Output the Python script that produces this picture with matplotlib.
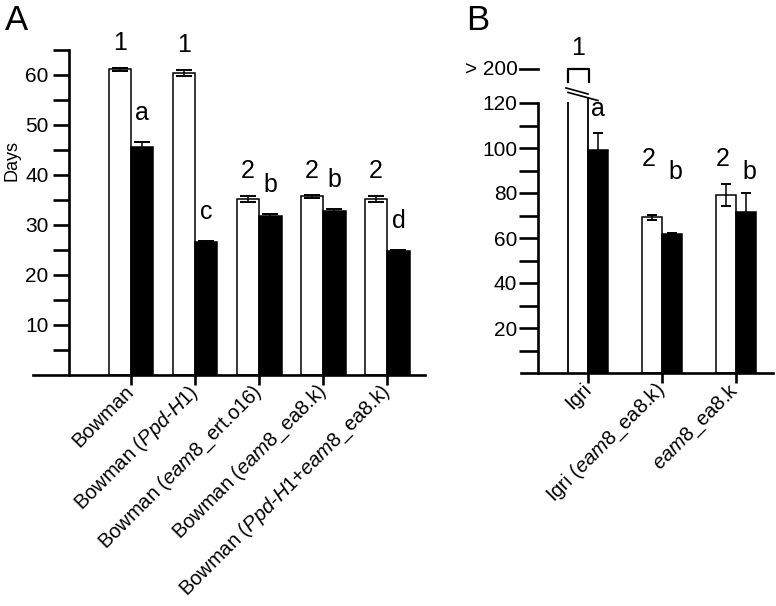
import matplotlib
matplotlib.use("Agg")
import matplotlib.pyplot as plt
import numpy as np

plt.rcParams['font.family'] = ['Liberation Sans', 'DejaVu Sans']
plt.rcParams['mathtext.fontset'] = 'custom'
plt.rcParams['mathtext.rm'] = 'Liberation Sans'
plt.rcParams['mathtext.it'] = 'Liberation Sans:italic'

# ---- data, panel A ----
names_a = ["Bowman",
           r"Bowman ($\mathit{Ppd}$-$\mathit{H1}$)",
           r"Bowman ($\mathit{eam8}$_ert.o16)",
           r"Bowman ($\mathit{eam8}$_ea8.k)",
           r"Bowman ($\mathit{Ppd}$-$\mathit{H1}$+$\mathit{eam8}$_ea8.k)"]
white_a = [61.2, 60.5, 35.3, 35.8, 35.3]
white_a_err = [0.3, 0.6, 0.6, 0.3, 0.6]
black_a = [45.7, 26.7, 31.8, 32.9, 24.8]
black_a_err = [1.0, 0.2, 0.4, 0.4, 0.3]
white_a_lab = ["1", "1", "2", "2", "2"]
black_a_lab = ["a", "c", "b", "b", "d"]

# ---- data, panel B ----
names_b = ["Igri", r"Igri ($\mathit{eam8}$_ea8.k)", r"$\mathit{eam8}$_ea8.k"]
white_b = [200, 69.2, 79.1]
white_b_err = [0, 1.0, 4.7]
black_b = [99.1, 61.8, 71.4]
black_b_err = [7.4, 0.5, 8.7]
white_b_lab = ["1", "2", "2"]
black_b_lab = ["a", "b", "b"]

fig = plt.figure(figsize=(7.76, 6.06), dpi=100)
W, H = 776, 606


def add_axes_px(x0, x1, y_top, y_bot):
    return fig.add_axes([x0 / W, 1 - y_bot / H, (x1 - x0) / W, (y_bot - y_top) / H])


def style(ax, spine_x, ytop, ticklen):
    for s in ("top", "right"):
        ax.spines[s].set_visible(False)
    ax.spines["left"].set_position(("data", spine_x))
    ax.spines["left"].set_bounds(0, ytop)
    for s in ("left", "bottom"):
        ax.spines[s].set_linewidth(1.9)
    ax.tick_params(axis="y", direction="out", length=ticklen, width=1.9,
                   labelsize=15, pad=3)
    ax.tick_params(axis="x", direction="out", length=7, width=1.9, pad=3)


# ---------------- panel A ----------------
axA = add_axes_px(33, 425, 50, 375)
xa = np.arange(len(names_a))
wa = 0.35
axA.bar(xa, white_a, width=-wa, align="edge", color="white",
        edgecolor="black", linewidth=1.1, zorder=2)
axA.bar(xa, black_a, width=wa, align="edge", color="black",
        edgecolor="black", linewidth=1.1, zorder=2)
axA.errorbar(xa - wa / 2, white_a, yerr=white_a_err, fmt="none",
             ecolor="black", elinewidth=1.1, capsize=6, capthick=1.4, zorder=3)
axA.errorbar(xa + wa / 2, black_a, yerr=black_a_err, fmt="none",
             ecolor="black", elinewidth=1.1, capsize=6, capthick=1.4, zorder=3)
for i in range(len(xa)):
    axA.text(xa[i] - wa / 2, white_a[i] + white_a_err[i] + 2.4, white_a_lab[i],
             ha="center", va="bottom", fontsize=18, clip_on=False)
    axA.text(xa[i] + wa / 2, black_a[i] + black_a_err[i] + 3.3, black_a_lab[i],
             ha="center", va="bottom", fontsize=18, clip_on=False)

axA.set_xlim(-1.53, 4.59)
axA.set_ylim(0, 65)
style(axA, -0.97, 65, 11.5)
yt = np.arange(5, 66, 5)
axA.set_yticks(yt)
axA.set_yticklabels([str(v) if v % 10 == 0 else "" for v in yt])
axA.set_xticks(xa)
axA.set_xticklabels(names_a, rotation=45, ha="right", va="center",
                    rotation_mode="anchor", fontsize=14.5)
axA.set_ylabel("Days", fontsize=13)
axA.yaxis.set_label_coords(-0.033, 0.66)
fig.text(5 / W, 1 - 20 / H, "A", fontsize=25, va="center", ha="left")

# ---------------- panel B ----------------
axB = add_axes_px(521, 773, 103, 373)
xb = np.arange(len(names_b))
wb = 0.27
ytop_b = 120
spine_b = -0.676

axB.bar(xb[1:], white_b[1:], width=-wb, align="edge", color="white",
        edgecolor="black", linewidth=1.1, zorder=2)
# broken bar for Igri (value > 200): sides only, no top
x0, x1 = xb[0] - wb, xb[0]
axB.fill_between([x0, x1], 0, ytop_b, color="white", zorder=1)
axB.plot([x0, x0], [0, ytop_b], color="black", lw=1.3, zorder=2, clip_on=False)
axB.plot([x1, x1], [0, 122.3], color="black", lw=1.3, zorder=2, clip_on=False)
axB.bar(xb, black_b, width=wb, align="edge", color="black",
        edgecolor="black", linewidth=1.1, zorder=2)
axB.errorbar(xb[1:] - wb / 2, white_b[1:], yerr=white_b_err[1:], fmt="none",
             ecolor="black", elinewidth=1.1, capsize=3.6, capthick=1.4, zorder=3)
axB.errorbar(xb + wb / 2, black_b, yerr=black_b_err, fmt="none",
             ecolor="black", elinewidth=1.1, capsize=3.6, capthick=1.4, zorder=3)

# break marks (two short parallel strokes)
axB.plot([x0 - 0.027, x1], [126.7, 124.0], color="black", lw=1.2, clip_on=False)
axB.plot([x0, x1 + 0.135], [124.7, 121.1], color="black", lw=1.2, clip_on=False)
# bracket above the broken bar
brk = 135
axB.plot([x0, x0, x1 + 0.02, x1 + 0.02], [129.5, brk, brk, 129.5],
         color="black", lw=1.6, clip_on=False)
axB.text((x0 + x1) / 2, brk + 4, white_b_lab[0], ha="center", va="bottom",
         fontsize=18, clip_on=False)
# "> 200" tick above the axis
axB.plot([spine_b - 0.24, spine_b], [brk, brk], color="black", lw=1.9,
         clip_on=False)
axB.text(spine_b - 0.27, brk, "> 200", ha="right", va="center", fontsize=15,
         clip_on=False)

axB.text(xb[0] + wb / 2, black_b[0] + black_b_err[0] + 5.5, black_b_lab[0],
         ha="center", va="bottom", fontsize=18, clip_on=False)
lab_level = max(np.array(white_b[1:]) + np.array(white_b_err[1:])) + 6
for i in range(1, len(xb)):
    axB.text(xb[i] - wb / 2 - 0.04, lab_level, white_b_lab[i],
             ha="center", va="bottom", fontsize=18, clip_on=False)
    axB.text(xb[i] + wb / 2 + 0.04, lab_level - 6, black_b_lab[i],
             ha="center", va="bottom", fontsize=18, clip_on=False)

axB.set_xlim(-0.905, 2.5)
axB.set_ylim(0, ytop_b)
style(axB, spine_b, ytop_b, 13.5)
axB.tick_params(axis="y", pad=1.5)
ytb = np.arange(10, 121, 10)
axB.set_yticks(ytb)
axB.set_yticklabels([str(v) if v % 20 == 0 else "" for v in ytb])
axB.set_xticks(xb)
axB.set_xticklabels(names_b, rotation=45, ha="right", va="center",
                    rotation_mode="anchor", fontsize=14.5)
fig.text(466 / W, 1 - 20 / H, "B", fontsize=25, va="center", ha="left")

fig.savefig("out.png", dpi=100)
